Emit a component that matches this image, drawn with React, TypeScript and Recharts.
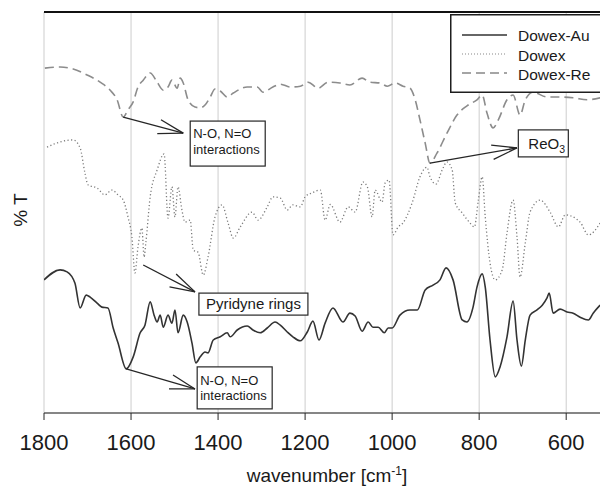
import React from 'react'
import {
  LineChart,
  Line,
  XAxis,
  YAxis,
  CartesianGrid,
  ReferenceLine,
  ReferenceDot,
} from 'recharts'

// wavenumbers (cm-1) and transmittance (arbitrary %T offsets)
const auWn = [
  1800, 1763, 1747, 1729, 1717, 1703, 1694, 1678, 1667, 1653,
  1641, 1630, 1611, 1595, 1579, 1568, 1556, 1547, 1540, 1533,
  1526, 1515, 1506, 1499, 1492, 1480, 1471, 1460, 1451, 1441,
  1430, 1423, 1411, 1395, 1379, 1372, 1356, 1333, 1320, 1303,
  1287, 1269, 1257, 1241, 1228, 1211, 1195, 1182, 1168, 1154,
  1136, 1113, 1097, 1085, 1069, 1055, 1044, 1032, 1018, 1009,
  1000, 982, 959, 942, 924, 906, 890, 876, 860, 839,
  828, 814, 805, 793, 786, 775, 763, 752, 736, 722,
  713, 703, 694, 683, 667, 655, 644, 639, 630, 614,
  598, 584, 568, 549, 538, 522,
]
const auT = [
  33.2, 35.7, 35.2, 32.4, 26.2, 29.4, 28.9, 27.4, 26.4, 26.2,
  21.2, 17.5, 11.0, 14.0, 20.0, 21.9, 27.7, 24.4, 22.7, 24.4,
  21.4, 24.4, 22.4, 25.7, 20.0, 24.4, 22.7, 17.5, 12.5, 14.0,
  15.2, 15.0, 18.2, 19.0, 20.0, 19.0, 20.7, 21.7, 20.7, 20.0,
  21.2, 22.7, 21.9, 20.2, 19.0, 18.0, 20.2, 22.9, 18.2, 22.4,
  26.2, 22.7, 24.9, 24.2, 20.4, 22.7, 21.4, 21.4, 20.0, 21.2,
  21.2, 24.4, 25.7, 25.7, 30.7, 31.9, 33.2, 36.2, 33.2, 23.2,
  22.7, 26.4, 31.4, 34.7, 31.4, 18.2, 9.0, 11.5, 19.0, 27.9,
  18.2, 11.7, 18.2, 24.4, 25.7, 26.9, 28.7, 29.9, 24.9, 25.9,
  25.2, 24.9, 23.9, 23.2, 24.9, 26.9,
]

const dowexWn = [
  1793, 1763, 1733, 1717, 1706, 1699, 1678, 1660, 1644, 1630,
  1618, 1607, 1598, 1591, 1584, 1575, 1570, 1566, 1556, 1540,
  1524, 1515, 1506, 1499, 1492, 1483, 1476, 1464, 1457, 1446,
  1434, 1423, 1407, 1391, 1377, 1365, 1349, 1322, 1308, 1287,
  1274, 1257, 1241, 1228, 1211, 1200, 1184, 1165, 1154, 1142,
  1120, 1101, 1085, 1067, 1057, 1046, 1039, 1023, 1016, 1007,
  998, 986, 975, 954, 936, 920, 913, 899, 885, 874,
  862, 855, 839, 821, 811, 802, 793, 786, 775, 763,
  747, 736, 722, 713, 706, 694, 683, 660, 637, 618,
  602, 568, 549, 522,
]
const dowexT = [
  66.3, 67.6, 68.1, 66.1, 59.9, 56.9, 56.1, 54.4, 55.6, 54.4,
  53.1, 48.9, 43.9, 34.9, 41.4, 46.1, 38.9, 42.4, 53.9, 60.6,
  64.6, 48.6, 56.4, 48.9, 56.4, 50.6, 47.6, 48.1, 40.6, 40.1,
  34.4, 38.9, 48.9, 51.9, 47.4, 43.6, 46.4, 50.1, 48.1, 51.4,
  53.9, 53.6, 50.6, 51.9, 51.4, 53.9, 54.9, 55.6, 48.1, 52.0,
  47.6, 51.4, 50.1, 57.6, 56.4, 48.9, 55.6, 52.6, 57.4, 58.1,
  44.4, 46.4, 47.4, 52.4, 58.9, 61.3, 58.9, 57.1, 60.6, 62.6,
  60.6, 52.4, 49.9, 47.4, 46.4, 53.0, 58.9, 48.9, 37.4, 33.2,
  35.7, 44.9, 53.1, 43.9, 33.9, 42.4, 50.1, 53.1, 50.1, 46.4,
  49.4, 47.6, 44.4, 47.4,
]

const reWn = [
  1798, 1763, 1733, 1701, 1671, 1648, 1632, 1618, 1607, 1595,
  1584, 1572, 1556, 1540, 1526, 1515, 1506, 1494, 1487, 1480,
  1469, 1453, 1441, 1430, 1418, 1407, 1395, 1379, 1365, 1333,
  1310, 1297, 1274, 1257, 1234, 1211, 1193, 1170, 1147, 1120,
  1097, 1069, 1051, 1028, 1011, 993, 975, 959, 947, 936,
  924, 913, 897, 874, 851, 828, 805, 793, 782, 768,
  756, 736, 722, 706, 694, 676, 644, 614, 584, 552,
  522,
]
const reT = [
  86.0, 86.3, 85.8, 84.3, 82.5, 80.5, 78.1, 73.8, 75.6, 77.6,
  81.3, 83.0, 84.8, 82.5, 80.5, 81.3, 83.0, 81.0, 83.5, 82.3,
  78.1, 76.3, 76.1, 76.8, 78.8, 80.8, 80.3, 78.8, 79.8, 81.3,
  81.3, 80.0, 81.3, 82.0, 81.3, 81.5, 82.5, 81.0, 82.5, 82.3,
  81.8, 83.5, 82.5, 82.3, 81.5, 82.3, 81.5, 81.0, 78.1, 73.1,
  67.3, 62.3, 64.8, 69.8, 74.3, 76.6, 78.1, 79.3, 74.8, 71.1,
  73.1, 78.1, 79.3, 74.3, 78.1, 80.0, 78.8, 78.8, 78.6, 78.1,
  78.6,
]

const xTicks = [1800, 1600, 1400, 1200, 1000, 800, 600]
const yTicks = [0, 20, 40, 60, 80, 100]

const toRows = (wn: number[], t: number[]) => wn.map((w, i) => ({ wn: w, t: t[i] }))
const auData = toRows(auWn, auT)
const dowexData = toRows(dowexWn, dowexT)
const reData = toRows(reWn, reT)

const FONT = '"Liberation Sans", Arial, sans-serif'
const INK = '#262626'

type Note = {
  from: [number, number]
  to: [number, number]
  box: [number, number]
  w: number
  h: number
  lines: string[]
  size: number
  dx: number
  dy: number[]
}

const notes: Note[] = [
  { from: [1618, 73.8], to: [1480, 69.8], box: [1464, 72.8], w: 75, h: 45, lines: ['N-O, N=O', 'interactions'], size: 13, dx: 3, dy: [17, 33] },
  { from: [913, 62.3], to: [713, 66.1], box: [710, 70.6], w: 50, h: 27, lines: ['ReO|3'], size: 15, dx: 10, dy: [19] },
  { from: [1572, 36.9], to: [1453, 30.2], box: [1444, 29.9], w: 109, h: 22, lines: ['Pyridyne rings'], size: 15, dx: 7, dy: [16] },
  { from: [1611, 11.0], to: [1453, 6.0], box: [1448, 11.5], w: 75, h: 42, lines: ['N-O, N=O', 'interactions'], size: 13, dx: 3, dy: [18, 33] },
]

function Arrow(props: any) {
  const { x1, y1, x2, y2 } = props
  const ang = Math.atan2(y1 - y2, x1 - x2)
  const len = 26
  const spread = 0.28
  const h1 = [x2 + len * Math.cos(ang + spread), y2 + len * Math.sin(ang + spread)]
  const h2 = [x2 + len * Math.cos(ang - spread), y2 + len * Math.sin(ang - spread)]
  return (
    <g stroke={INK} strokeWidth={1.3} fill="none">
      <line x1={x1} y1={y1} x2={x2} y2={y2} />
      <line x1={x2} y1={y2} x2={h1[0]} y2={h1[1]} />
      <line x1={x2} y1={y2} x2={h2[0]} y2={h2[1]} />
    </g>
  )
}

function NoteBox(note: Note) {
  return (props: any) => {
    const { cx, cy } = props
    return (
      <g>
        <rect x={cx} y={cy} width={note.w} height={note.h} fill="#fff" stroke={INK} strokeWidth={1.2} />
        {note.lines.map((ln, i) => {
          const [main, sub] = ln.split('|')
          return (
            <text key={i} x={cx + note.dx} y={cy + note.dy[i]} fontSize={note.size} fill="#1a1a1a" fontFamily={FONT}>
              {main}
              {sub && (
                <tspan dy={4} fontSize={note.size * 0.7}>
                  {sub}
                </tspan>
              )}
            </text>
          )
        })}
      </g>
    )
  }
}

function LegendBox() {
  const rows = [
    { name: 'Dowex-Au', color: '#333', dash: undefined, width: 1.4 },
    { name: 'Dowex', color: '#888', dash: '1 2', width: 1.2 },
    { name: 'Dowex-Re', color: '#888', dash: '9 5', width: 1.5 },
  ]
  return (
    <svg width={160} height={80} style={{ position: 'absolute', left: 450, top: 14 }}>
      <rect x={0.75} y={0.75} width={170} height={77.5} fill="#fff" stroke="#1e1e1e" strokeWidth={1.5} />
      {rows.map((r, i) => (
        <g key={r.name}>
          <line x1={12} x2={57} y1={21 + i * 19} y2={21 + i * 19} stroke={r.color} strokeWidth={r.width} strokeDasharray={r.dash} />
          <text x={68} y={27 + i * 19.5} fontSize={15.5} fill="#1a1a1a" fontFamily={FONT}>
            {r.name}
          </text>
        </g>
      ))}
    </svg>
  )
}

export default function App() {
  return (
    <div
      style={{
        position: 'absolute',
        left: 0,
        top: 0,
        width: 600,
        height: 492,
        overflow: 'hidden',
        background: '#fff',
        fontFamily: FONT,
      }}
    >
      <LineChart width={620} height={492} margin={{ top: 12, right: 19, left: 44, bottom: 0 }}>
        <CartesianGrid stroke="#cdcdcd" strokeWidth={1} />
        <XAxis
          dataKey="wn"
          type="number"
          domain={[520, 1800]}
          reversed
          allowDataOverflow
          ticks={xTicks}
          height={79}
          tickSize={7}
          tickMargin={14}
          stroke={INK}
          tick={{ fill: '#1a1a1a', fontSize: 22 }}
        />
        <YAxis
          type="number"
          domain={[0, 100]}
          ticks={yTicks}
          width={0}
          tick={false}
          tickLine={false}
          stroke={INK}
        />
        <Line
          data={reData}
          dataKey="t"
          type="monotone"
          stroke="#8c8c8c"
          strokeWidth={1.6}
          strokeDasharray="9 5"
          dot={false}
          isAnimationActive={false}
        />
        <Line
          data={dowexData}
          dataKey="t"
          type="monotone"
          stroke="#7a7a7a"
          strokeWidth={1.3}
          strokeDasharray="1.2 2.4"
          dot={false}
          isAnimationActive={false}
        />
        <Line
          data={auData}
          dataKey="t"
          type="monotone"
          stroke="#333"
          strokeWidth={1.6}
          dot={false}
          isAnimationActive={false}
        />
        {notes.map((n, i) => (
          <ReferenceLine key={`a${i}`} segment={[{ x: n.from[0], y: n.from[1] }, { x: n.to[0], y: n.to[1] }]} shape={Arrow} />
        ))}
        {notes.map((n, i) => (
          <ReferenceDot key={`b${i}`} x={n.box[0]} y={n.box[1]} r={1} shape={NoteBox(n)} />
        ))}
      </LineChart>
      {/* top frame line of the plot box */}
      <div style={{ position: 'absolute', left: 44, top: 11, width: 560, height: 2, background: '#111' }} />
      <LegendBox />
      <div
        style={{
          position: 'absolute',
          left: 21,
          top: 210,
          transform: 'translate(-50%, -50%) rotate(-90deg)',
          fontSize: 19,
          color: '#1a1a1a',
          whiteSpace: 'nowrap',
        }}
      >
        % T
      </div>
      <div
        style={{
          position: 'absolute',
          left: 327,
          top: 466,
          transform: 'translateX(-50%)',
          fontSize: 19,
          lineHeight: '20px',
          color: '#1a1a1a',
          whiteSpace: 'nowrap',
        }}
      >
        wavenumber [cm<sup style={{ fontSize: 12, verticalAlign: 'top', lineHeight: '10px' }}>-1</sup>]
      </div>
    </div>
  )
}
